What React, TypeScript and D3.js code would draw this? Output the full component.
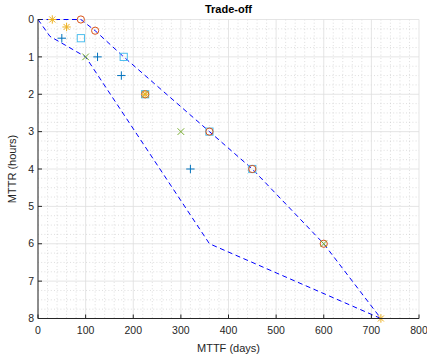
import * as d3 from 'd3';

// ─── Data ─────────────────────────────────────────────────────────────────────
const X_TICKS = [0, 100, 200, 300, 400, 500, 600, 700, 800];
const Y_TICKS = [0, 1, 2, 3, 4, 5, 6, 7, 8];

// [MTTF days, MTTR hours]
const upperFrontier: [number, number][] = [[0, 0], [90, 0], [120, 0.3], [180, 1], [360, 3], [450, 4], [600, 6], [720, 8]];
const lowerFrontier: [number, number][] = [[0, 0], [25, 0.45], [100, 1], [360, 6], [720, 8]];

const plusPts: [number, number][] = [[50, 0.5], [125, 1], [175, 1.5], [320, 4]];
const circlePts: [number, number][] = [[90, 0], [120, 0.3], [225, 2], [360, 3], [450, 4], [600, 6]];
const starPts: [number, number][] = [[30, 0], [60, 0.2], [225, 2], [720, 8]];
const crossPts: [number, number][] = [[100, 1], [225, 2], [300, 3], [600, 6]];
const squarePts: [number, number][] = [[90, 0.5], [180, 1], [225, 2], [360, 3], [450, 4]];

const W = 427, H = 362;
const margin = { left: 38, right: 8, top: 19.5, bottom: 43.5 };
const FONT = 'Liberation Sans, Arial, Helvetica, sans-serif';
const AXIS = '#262626';

export default function App() {
  const x = d3.scaleLinear().domain([0, 800]).range([margin.left, W - margin.right]);
  const y = d3.scaleLinear().domain([0, 8]).range([margin.top, H - margin.bottom]);
  const line = d3.line<[number, number]>().x(d => x(d[0])).y(d => y(d[1]));

  const xMinor = d3.range(0, 801, 20).filter(v => v % 100 !== 0);
  const yMinor = d3.range(0, 8.01, 0.25).filter(v => v % 1 !== 0);
  const [x0, x1] = x.range();
  const [y0, y1] = y.range();
  const s = 4.2;

  return (
    <svg width={W} height={H} style={{ position: 'absolute', left: 0, top: 0, background: '#fff', fontFamily: FONT }}>
      {/* minor grid */}
      <g stroke="#c8c8c8" strokeWidth={0.6} strokeDasharray="1 2.2">
        {xMinor.map(v => <line key={'xm' + v} x1={x(v)} x2={x(v)} y1={y0} y2={y1} />)}
        {yMinor.map(v => <line key={'ym' + v} x1={x0} x2={x1} y1={y(v)} y2={y(v)} />)}
      </g>
      {/* major grid */}
      <g stroke="#dedede" strokeWidth={0.8}>
        {X_TICKS.map(v => <line key={'xg' + v} x1={x(v)} x2={x(v)} y1={y0} y2={y1} />)}
        {Y_TICKS.map(v => <line key={'yg' + v} x1={x0} x2={x1} y1={y(v)} y2={y(v)} />)}
      </g>

      {/* frontier lines */}
      <path d={line(upperFrontier) ?? ''} fill="none" stroke="#0000ff" strokeWidth={1} strokeDasharray="5 3.5" />
      <path d={line(lowerFrontier) ?? ''} fill="none" stroke="#0000ff" strokeWidth={1} strokeDasharray="5 3.5" />

      {/* markers */}
      <g stroke="#0072BD" strokeWidth={1}>
        {plusPts.map(([a, b], i) => (
          <path key={'p' + i} d={`M${x(a) - s},${y(b)}H${x(a) + s}M${x(a)},${y(b) - s}V${y(b) + s}`} />
        ))}
      </g>
      <g stroke="#4DBEEE" strokeWidth={1} fill="none">
        {squarePts.map(([a, b], i) => (
          <rect key={'s' + i} x={x(a) - 3.6} y={y(b) - 3.6} width={7.2} height={7.2} />
        ))}
      </g>
      <g stroke="#D95319" strokeWidth={1} fill="none">
        {circlePts.map(([a, b], i) => <circle key={'c' + i} cx={x(a)} cy={y(b)} r={3.6} />)}
      </g>
      <g stroke="#77AC30" strokeWidth={1}>
        {crossPts.map(([a, b], i) => (
          <path key={'x' + i} d={`M${x(a) - 3.3},${y(b) - 3.3}L${x(a) + 3.3},${y(b) + 3.3}M${x(a) - 3.3},${y(b) + 3.3}L${x(a) + 3.3},${y(b) - 3.3}`} />
        ))}
      </g>
      <g stroke="#EDB120" strokeWidth={1}>
        {starPts.map(([a, b], i) => (
          <path key={'st' + i} d={`M${x(a) - s},${y(b)}H${x(a) + s}M${x(a)},${y(b) - s}V${y(b) + s}M${x(a) - 3},${y(b) - 3}L${x(a) + 3},${y(b) + 3}M${x(a) - 3},${y(b) + 3}L${x(a) + 3},${y(b) - 3}`} />
        ))}
      </g>

      {/* axes */}
      <g stroke={AXIS} strokeWidth={1} fill="none">
        <line x1={x0} x2={x1} y1={y1} y2={y1} />
        <line x1={x0} x2={x0} y1={y0} y2={y1} />
        {X_TICKS.map(v => <line key={'xt' + v} x1={x(v)} x2={x(v)} y1={y1} y2={y1 - 4} />)}
        {Y_TICKS.map(v => <line key={'yt' + v} x1={x0} x2={x0 + 4} y1={y(v)} y2={y(v)} />)}
      </g>
      <g fontSize={10.5} fill={AXIS}>
        {X_TICKS.map(v => (
          <text key={'xl' + v} x={x(v)} y={y1 + 15} textAnchor="middle">{v}</text>
        ))}
        {Y_TICKS.map(v => (
          <text key={'yl' + v} x={x0 - 4} y={y(v)} dy="0.35em" textAnchor="end">{v}</text>
        ))}
      </g>

      <text x={(x0 + x1) / 2} y={y1 + 33} textAnchor="middle" fontSize={11} fill={AXIS}>MTTF (days)</text>
      <text transform={`translate(16,${(y0 + y1) / 2}) rotate(-90)`} textAnchor="middle" fontSize={11} fill={AXIS}>MTTR (hours)</text>
      <text x={(x0 + x1) / 2} y={13} textAnchor="middle" fontSize={11} fontWeight="bold" fill="#000">Trade-off</text>
    </svg>
  );
}
